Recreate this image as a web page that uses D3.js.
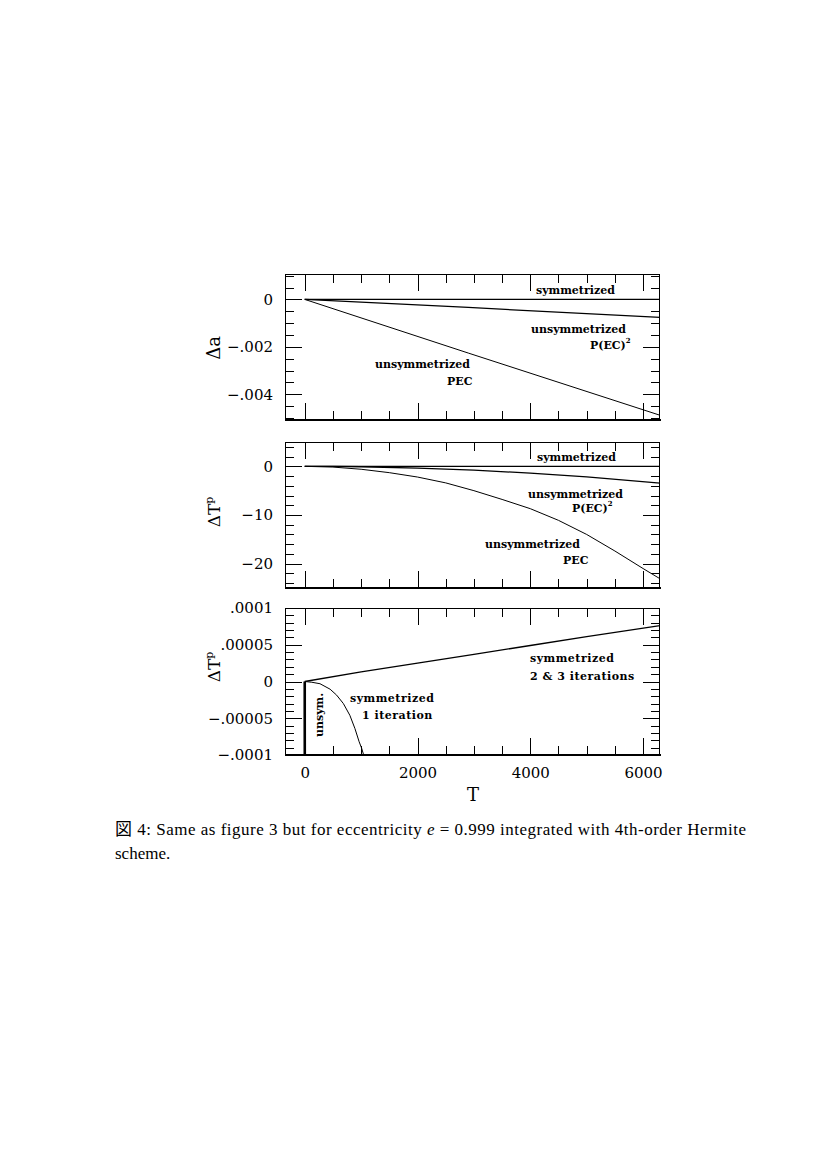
<!DOCTYPE html>
<html><head><meta charset="utf-8">
<script src="https://cdn.jsdelivr.net/npm/d3@7/dist/d3.min.js"></script>
<style>
html,body{margin:0;padding:0;background:#fff;}
svg{display:block;}
.cap{font-family:"Liberation Serif","Times New Roman",serif;}
.cjk{font-family:"Noto Sans CJK JP",sans-serif;}
</style></head>
<body>
<script>
// ---------------- DATA ----------------
// x axis (time T)
const xMajorTicks = [0, 2000, 4000, 6000];
const xTickLabels = ["0", "2000", "4000", "6000"];

// Panel 1 : Δa
const aSymT   = [0, 6300];
const aSymV   = [0, 0];
const aPEC2T  = [0, 2900, 6300];
const aPEC2V  = [0, -0.00034, -0.00076];
const aPECT   = [0, 2900, 6300];
const aPECV   = [0, -0.00226, -0.00488];
const aMajorTicks = [0, -0.002, -0.004];
const aTickLabels = ["0", "\u2212.002", "\u2212.004"];

// Panel 2 : ΔT_p
const tpSymT  = [0, 6300];
const tpSymV  = [0, 0];
const tpPEC2T = [0, 500, 1000, 2000, 3000, 4000, 5000, 6300];
const tpPEC2V = [0, -0.02, -0.09, -0.35, -0.78, -1.39, -2.18, -3.45];
const tpPECT  = [0, 500, 1000, 1500, 2000, 2500, 3000, 3500, 4000, 4500, 5000, 5500, 6000, 6300];
const tpPECV  = [0, -0.15, -0.6, -1.3, -2.2, -3.4, -5.0, -6.8, -8.7, -11.1, -14.0, -17.4, -21.0, -23.1];
const tpMajorTicks = [0, -10, -20];
const tpTickLabels = ["0", "\u221210", "\u221220"];

// Panel 3 : ΔT_p (small scale)
const s23T    = [0, 1000, 2000, 3000, 4000, 5000, 6300];
const s23V    = [0, 1.3e-5, 2.5e-5, 3.7e-5, 4.9e-5, 6.1e-5, 7.6e-5];
const s1T     = [0, 125, 270, 450, 565, 685, 800, 890, 965, 1010, 1045];
const s1V     = [0, -0.1e-5, -0.3e-5, -1.05e-5, -1.85e-5, -3.0e-5, -4.6e-5, -6.4e-5, -8.2e-5, -9.1e-5, -1.0e-4];
const unsymT  = [0, 0, 3];
const unsymV  = [0, -0.00005, -0.0002];
const cMajorTicks = [0.0001, 0.00005, 0, -0.00005, -0.0001];
const cTickLabels = [".0001", ".00005", "0", "\u2212.00005", "\u2212.0001"];

// ---------------- LAYOUT ----------------
const W = 827, H = 1170;
const L = 285, R = 660;
const SERIF = "'DejaVu Serif', serif";
const svg = d3.select("body").append("svg").attr("width", W).attr("height", H)
  .style("font-family", SERIF);
svg.append("rect").attr("width", W).attr("height", H).attr("fill", "#fff");

const x = d3.scaleLinear().domain([-350, 6300]).range([L, R]);
const xMinor = d3.range(0, 6300, 500).filter(d => xMajorTicks.indexOf(d) < 0);

const panels = [
  {id:"a", top:274, bot:420, dom:[-0.00508, 0.00107], major:aMajorTicks, labels:aTickLabels,
   minorStep:0.0005, series:[[aSymT,aSymV,1.1],[aPEC2T,aPEC2V,1.3],[aPECT,aPECV,1.0]]},
  {id:"b", top:442, bot:588, dom:[-25, 5], major:tpMajorTicks, labels:tpTickLabels,
   minorStep:2, series:[[tpSymT,tpSymV,1.1],[tpPEC2T,tpPEC2V,1.3],[tpPECT,tpPECV,1.0]]},
  {id:"c", top:608, bot:755, dom:[-0.0001, 0.0001], major:cMajorTicks, labels:cTickLabels,
   minorStep:0.00001, series:[[s23T,s23V,1.3],[s1T,s1V,1.0],[unsymT,unsymV,2.6]]}
];

const MAJ = 17, MIN = 9;

panels.forEach((p, pi) => {
  const y = d3.scaleLinear().domain(p.dom).range([p.bot, p.top]);
  const g = svg.append("g");
  const n = Math.round((p.dom[1]-p.dom[0])/p.minorStep)+2;
  const start = Math.ceil(p.dom[0]/p.minorStep);
  const yMinor = d3.range(start, start+n).map(k => +(k*p.minorStep).toPrecision(6))
     .filter(v => v > p.dom[0] && v < p.dom[1] && !p.major.some(m => Math.abs(m-v) < p.minorStep/10));

  const cid = "clip"+p.id;
  svg.append("clipPath").attr("id", cid).append("rect")
    .attr("x", L).attr("y", p.top).attr("width", R-L).attr("height", p.bot-p.top);

  const line = d3.line().x(d => x(d[0])).y(d => y(d[1]));
  p.series.forEach(([T,V,w]) => {
    g.append("path").datum(T.map((t,i)=>[t,V[i]]))
      .attr("clip-path", `url(#${cid})`)
      .attr("d", line).attr("fill","none").attr("stroke","#000").attr("stroke-width", w);
  });

  const axG = (gen, tx, ty) => {
    const a = g.append("g").attr("transform", `translate(${tx},${ty})`).call(gen);
    a.select(".domain").remove();
    a.selectAll("line").attr("stroke","#000").attr("stroke-width",1).attr("shape-rendering","crispEdges");
    return a;
  };
  const left = axG(d3.axisLeft(y).tickValues(p.major).tickSize(-MAJ).tickPadding(12)
      .tickFormat((d,i) => p.labels[i]), L, 0);
  left.selectAll("text").attr("font-family",SERIF).attr("font-size",15).attr("fill","#000");
  axG(d3.axisLeft(y).tickValues(yMinor).tickSize(-MIN).tickFormat(""), L, 0);
  axG(d3.axisRight(y).tickValues(p.major).tickSize(-MAJ).tickFormat(""), R, 0);
  axG(d3.axisRight(y).tickValues(yMinor).tickSize(-MIN).tickFormat(""), R, 0);
  const bot = axG(d3.axisBottom(x).tickValues(xMajorTicks).tickSize(-MAJ).tickPadding(12)
      .tickFormat((d,i) => pi === 2 ? xTickLabels[i] : ""), 0, p.bot);
  bot.selectAll("text").attr("font-family",SERIF).attr("font-size",15).attr("fill","#000");
  axG(d3.axisBottom(x).tickValues(xMinor).tickSize(-MIN).tickFormat(""), 0, p.bot);
  axG(d3.axisTop(x).tickValues(xMajorTicks).tickSize(-MAJ).tickFormat(""), 0, p.top);
  axG(d3.axisTop(x).tickValues(xMinor).tickSize(-MIN).tickFormat(""), 0, p.top);

  g.append("rect").attr("x", L+0.5).attr("y", p.top+0.5).attr("width", R-L-1).attr("height", p.bot-p.top-1)
    .attr("fill","none").attr("stroke","#000").attr("stroke-width",1).attr("shape-rendering","crispEdges");
  g.append("line").attr("x1", L).attr("x2", R+1).attr("y1", p.bot).attr("y2", p.bot)
    .attr("stroke","#000").attr("stroke-width",2).attr("shape-rendering","crispEdges");
});

// ---------------- TEXT ----------------
const txt = (s, xx, yy, o={}) => {
  const t = svg.append("text").attr("x", xx).attr("y", yy)
    .attr("font-family", SERIF)
    .attr("font-size", o.size || 11).attr("fill", "#000")
    .attr("font-weight", o.weight || "bold");
  if (o.ls) t.attr("letter-spacing", o.ls);
  if (o.anchor) t.attr("text-anchor", o.anchor);
  if (o.transform) t.attr("transform", o.transform);
  t.text(s);
  return t;
};
const pec2 = (xx, yy) => {
  const t = txt("P(EC)", xx, yy);
  t.append("tspan").attr("font-size", 7).attr("dy", -6).text("2");
};

// Panel 1
txt("symmetrized", 536, 294);
txt("unsymmetrized", 531, 333);
pec2(590, 349);
txt("unsymmetrized", 375, 368);
txt("PEC", 447, 385);
// Panel 2
txt("symmetrized", 537, 461);
txt("unsymmetrized", 528, 498);
pec2(572, 512);
txt("unsymmetrized", 485, 548);
txt("PEC", 563, 564);
// Panel 3
txt("symmetrized", 530, 662, {ls:0.5});
txt("2 & 3 iterations", 530, 680, {ls:0.5});
txt("symmetrized", 350, 702, {ls:0.5});
txt("1 iteration", 362, 719, {ls:0.5});
txt("unsym.", 0, 0, {anchor:"middle", transform:"translate(323,715) rotate(-90)"});

// axis titles
txt("\u0394a", 0, 0, {weight:"normal", size:18, anchor:"middle", transform:"translate(220,348) rotate(-90)"});
const tp1 = txt("\u0394T", 0, 0, {weight:"normal", size:17, anchor:"middle", transform:"translate(220,512) rotate(-90)"});
tp1.append("tspan").attr("font-size", 11).attr("dy", -7).text("p");
const tp2 = txt("\u0394T", 0, 0, {weight:"normal", size:17, anchor:"middle", transform:"translate(220,667) rotate(-90)"});
tp2.append("tspan").attr("font-size", 11).attr("dy", -7).text("p");
txt("T", 473, 801, {weight:"normal", size:18, anchor:"middle"});

// caption
const cap = svg.append("text").attr("class","cap").attr("x", 115).attr("y", 835)
  .attr("font-size", 17).attr("fill","#000")
  .attr("textLength", 631).attr("lengthAdjust", "spacing");
cap.append("tspan").attr("class","cjk").text("\u56F3");
cap.append("tspan").text(" 4: Same as figure 3 but for eccentricity ");
cap.append("tspan").attr("font-style","italic").text("e");
cap.append("tspan").text(" = 0.999 integrated with 4th-order Hermite");
svg.append("text").attr("class","cap").attr("x", 115).attr("y", 859)
  .attr("font-size", 17).attr("fill","#000")
  .text("scheme.");
</script>
</body></html>
